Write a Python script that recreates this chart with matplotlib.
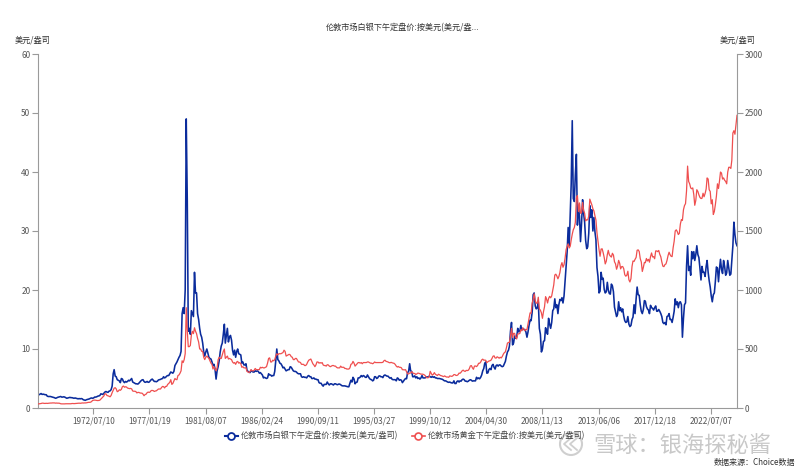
import matplotlib
matplotlib.use("Agg")
import matplotlib.pyplot as plt
import numpy as np
import pandas as pd
from matplotlib.lines import Line2D
from matplotlib.patches import Ellipse

plt.rcParams['font.family'] = ['Noto Sans CJK SC', 'DejaVu Sans']

# ---------------- data (monthly samples, Jan 1968 - Aug 2024) ----------------
start_month = "1968-01-01"
end_month = "2024-08-01"

silver_1968_1979 = [
    2.20, 2.25, 2.35, 2.45, 2.30, 2.35, 2.30, 2.25, 2.25, 2.00, 1.95, 1.95,
    1.95, 1.90, 1.85, 1.80, 1.75, 1.65, 1.70, 1.80, 1.85, 1.90, 1.95, 1.85,
    1.85, 1.90, 1.85, 1.75, 1.65, 1.70, 1.75, 1.80, 1.75, 1.75, 1.70, 1.65,
    1.70, 1.65, 1.60, 1.55, 1.60, 1.55, 1.60, 1.55, 1.40, 1.35, 1.30, 1.40,
    1.45, 1.50, 1.55, 1.65, 1.70, 1.65, 1.70, 1.85, 1.85, 1.90, 2.00, 2.05,
    2.10, 2.40, 2.35, 2.30, 2.50, 2.70, 2.80, 2.70, 2.65, 2.85, 2.90, 3.10,
    3.70, 5.80, 6.50, 5.40, 5.30, 4.80, 4.70, 4.60, 4.30, 5.00, 4.90, 4.50,
    4.30, 4.50, 4.40, 4.50, 4.70, 4.60, 4.80, 5.00, 4.40, 4.30, 4.20, 4.10,
    4.10, 4.05, 4.20, 4.40, 4.60, 4.75, 4.80, 4.50, 4.35, 4.40, 4.50, 4.35,
    4.40, 4.60, 4.80, 4.90, 4.70, 4.50, 4.50, 4.45, 4.55, 4.75, 4.80, 4.85,
    4.95, 5.00, 5.30, 5.10, 5.20, 5.40, 5.50, 5.50, 5.80, 6.10, 6.00, 5.90,
    6.20, 7.20, 7.50, 7.80, 8.20, 8.60, 8.90, 9.60, 16.00, 17.00, 16.00, 20.00,
]
silver_1980_1989 = [
    49.00, 35.00, 13.00, 13.50, 12.50, 16.50, 16.00, 15.50, 23.00, 19.50, 19.50, 16.00,
    15.00, 13.50, 12.50, 12.00, 11.00, 9.50, 8.80, 9.50, 10.00, 9.30, 8.60, 8.40,
    8.30, 7.80, 7.20, 7.40, 6.60, 4.90, 6.30, 7.00, 8.00, 9.50, 10.50, 11.00,
    12.50, 14.20, 11.00, 12.30, 13.50, 11.20, 12.00, 12.30, 11.50, 9.80, 9.00, 9.80,
    8.60, 9.60, 10.00, 9.20, 9.10, 9.00, 7.60, 7.80, 7.30, 7.30, 7.50, 6.40,
    6.20, 6.10, 6.00, 6.40, 6.20, 6.10, 6.10, 6.30, 6.20, 6.30, 6.20, 5.90,
    6.00, 5.80, 5.60, 5.10, 5.20, 5.10, 5.00, 5.10, 5.80, 5.60, 5.60, 5.40,
    5.50, 5.50, 6.20, 8.00, 10.00, 8.20, 8.00, 7.60, 7.50, 7.20, 6.80, 6.90,
    6.60, 6.30, 6.40, 6.50, 6.50, 7.00, 6.90, 6.60, 6.30, 6.20, 6.20, 6.10,
    5.90, 5.80, 5.80, 5.80, 5.30, 5.20, 5.30, 5.20, 5.20, 5.10, 5.40, 5.50,
]
silver_1990_1999 = [
    5.30, 5.30, 5.00, 5.00, 5.10, 4.90, 4.90, 4.80, 4.80, 4.30, 4.20, 4.20,
    3.90, 3.70, 4.00, 4.00, 4.00, 4.40, 4.10, 3.90, 4.10, 4.10, 4.00, 3.90,
    4.10, 4.10, 4.00, 3.95, 4.05, 4.05, 3.95, 3.80, 3.75, 3.75, 3.75, 3.70,
    3.65, 3.60, 3.60, 4.20, 4.70, 4.40, 5.20, 4.90, 4.10, 4.35, 4.40, 5.10,
    5.10, 5.25, 5.50, 5.30, 5.50, 5.40, 5.20, 5.20, 5.60, 5.30, 5.00, 4.85,
    4.80, 4.60, 4.70, 5.30, 5.30, 5.00, 5.10, 5.40, 5.45, 5.30, 5.30, 5.15,
    5.50, 5.60, 5.50, 5.40, 5.40, 5.20, 5.05, 5.15, 4.85, 4.80, 4.80, 4.80,
    4.60, 5.10, 5.00, 4.70, 4.80, 4.70, 4.30, 4.55, 4.80, 5.00, 4.95, 6.00,
    6.20, 7.50, 6.30, 6.20, 5.30, 5.30, 5.45, 5.10, 5.30, 5.00, 5.10, 4.90,
    5.10, 5.50, 5.10, 5.10, 5.10, 5.20, 5.30, 5.20, 5.40, 5.30, 5.20, 5.35,
]
silver_2000_2009 = [
    5.20, 5.30, 5.10, 5.10, 5.00, 5.00, 5.00, 4.95, 4.90, 4.85, 4.70, 4.60,
    4.60, 4.50, 4.40, 4.35, 4.40, 4.30, 4.25, 4.25, 4.60, 4.15, 4.15, 4.50,
    4.60, 4.40, 4.60, 4.55, 4.80, 4.90, 4.80, 4.55, 4.55, 4.45, 4.55, 4.70,
    4.80, 4.70, 4.55, 4.60, 4.60, 4.60, 5.20, 4.95, 5.10, 4.95, 5.20, 5.60,
    6.30, 6.70, 7.60, 7.80, 5.90, 5.95, 6.50, 6.70, 6.50, 7.20, 7.40, 6.90,
    6.60, 7.20, 7.30, 7.10, 7.30, 7.30, 7.10, 7.00, 7.10, 7.50, 7.90, 8.80,
    9.50, 9.80, 10.50, 13.00, 14.50, 10.70, 11.00, 12.20, 11.80, 12.00, 13.50, 12.90,
    13.00, 14.00, 13.20, 13.50, 13.30, 13.30, 12.90, 12.00, 12.90, 14.00, 14.90, 14.80,
    16.20, 19.20, 19.50, 17.30, 16.80, 17.00, 18.00, 13.50, 12.50, 9.50, 10.00, 11.30,
    11.40, 13.60, 12.90, 12.50, 15.20, 14.20, 13.50, 14.50, 16.50, 16.80, 18.50, 17.00,
]
silver_2010_2019 = [
    17.50, 16.00, 17.50, 18.40, 18.20, 18.70, 17.80, 19.00, 21.50, 24.00, 26.50, 30.60,
    27.50, 33.00, 38.00, 48.70, 35.50, 35.00, 39.50, 43.00, 31.00, 34.00, 32.50, 28.20,
    31.30, 35.30, 33.00, 31.50, 28.40, 27.00, 27.30, 29.60, 34.30, 32.30, 33.60, 30.00,
    32.30, 29.80, 28.50, 23.80, 22.30, 19.50, 19.80, 23.00, 21.80, 22.00, 20.10, 19.50,
    19.70, 21.30, 20.00, 19.40, 19.30, 21.00, 20.70, 19.70, 17.10, 16.30, 15.50, 15.90,
    18.00, 16.50, 17.00, 16.30, 16.80, 15.60, 14.80, 14.50, 14.60, 15.50, 14.20, 13.80,
    14.00, 15.00, 15.40, 17.50, 16.00, 18.50, 20.50, 19.20, 19.10, 17.50, 16.40, 16.00,
    16.70, 18.20, 18.10, 17.20, 16.80, 16.60, 16.00, 17.40, 17.00, 16.90, 16.60, 17.00,
    17.30, 16.40, 16.40, 16.70, 16.40, 16.00, 15.50, 14.50, 14.30, 14.50, 14.10, 15.50,
    15.60, 16.00, 15.00, 15.00, 14.50, 15.40, 16.40, 18.50, 17.50, 18.00, 17.00, 17.90,
]
silver_2020_2024 = [
    18.00, 17.50, 12.00, 15.20, 17.50, 17.80, 24.00, 27.50, 23.30, 24.00, 22.50, 26.50,
    25.30, 26.50, 25.00, 26.00, 27.50, 26.00, 25.50, 23.70, 21.70, 24.00, 23.00, 23.00,
    22.30, 24.00, 25.00, 23.00, 21.60, 20.50, 19.00, 18.00, 19.20, 19.50, 21.50, 23.90,
    23.70, 21.40, 23.50, 25.20, 23.50, 22.80, 25.00, 24.00, 22.50, 22.90, 25.00, 23.80,
    22.50, 22.70, 25.00, 27.50, 31.50, 29.40, 28.00, 27.50,
]

gold_1968_1979 = [
    35, 35, 37, 38, 41, 41, 39, 39, 40, 39, 40, 41,
    42, 42, 43, 43, 43, 41, 42, 41, 41, 40, 36, 35,
    35, 35, 35, 36, 36, 36, 36, 36, 36, 38, 38, 37,
    38, 39, 39, 40, 41, 40, 41, 43, 42, 43, 43, 44,
    46, 48, 48, 49, 54, 64, 66, 67, 66, 64, 63, 64,
    66, 75, 84, 91, 102, 120, 120, 106, 103, 100, 95, 106,
    130, 150, 168, 172, 162, 138, 143, 154, 150, 158, 181, 186,
    176, 180, 178, 169, 167, 164, 166, 162, 144, 142, 142, 140,
    128, 132, 132, 128, 126, 126, 118, 104, 114, 117, 130, 135,
    132, 137, 148, 149, 147, 140, 144, 146, 154, 161, 161, 161,
    174, 183, 181, 170, 183, 183, 200, 208, 218, 240, 200, 208,
    228, 250, 242, 240, 275, 280, 295, 315, 400, 385, 410, 460,
]
gold_1980_1989 = [
    850, 650, 520, 520, 530, 620, 650, 630, 680, 650, 630, 590,
    560, 500, 500, 480, 480, 430, 410, 430, 440, 430, 420, 400,
    380, 370, 330, 350, 330, 315, 340, 410, 430, 420, 420, 450,
    480, 500, 420, 430, 440, 415, 420, 415, 410, 390, 380, 385,
    370, 390, 395, 380, 385, 375, 345, 350, 340, 340, 340, 310,
    305, 300, 310, 325, 315, 315, 320, 335, 325, 325, 325, 325,
    345, 340, 345, 340, 340, 345, 350, 380, 420, 425, 390, 390,
    405, 400, 410, 440, 460, 450, 460, 460, 460, 465, 470, 490,
    480, 440, 445, 450, 455, 450, 435, 430, 410, 410, 420, 420,
    405, 390, 390, 385, 370, 370, 370, 360, 360, 370, 390, 405,
]
gold_1990_1999 = [
    410, 415, 395, 375, 365, 350, 365, 390, 390, 380, 385, 380,
    385, 365, 360, 360, 355, 367, 365, 355, 350, 355, 360, 360,
    355, 355, 345, 340, 340, 340, 355, 345, 345, 345, 335, 335,
    330, 330, 330, 340, 370, 375, 395, 380, 355, 365, 375, 385,
    385, 380, 385, 375, 385, 385, 385, 385, 390, 390, 385, 380,
    380, 375, 380, 390, 385, 385, 385, 385, 385, 385, 385, 387,
    400, 405, 396, 393, 390, 385, 383, 387, 383, 381, 378, 369,
    355, 347, 352, 345, 345, 341, 325, 324, 323, 325, 306, 289,
    289, 297, 296, 308, 299, 292, 293, 284, 289, 296, 294, 291,
    287, 287, 286, 282, 276, 262, 256, 257, 265, 311, 293, 279,
]
gold_2000_2009 = [
    285, 300, 286, 280, 275, 286, 282, 275, 273, 270, 266, 272,
    266, 262, 263, 260, 272, 270, 268, 273, 283, 283, 276, 276,
    282, 296, 294, 303, 315, 321, 313, 310, 319, 317, 320, 333,
    357, 359, 341, 328, 355, 356, 351, 360, 379, 379, 389, 407,
    414, 405, 406, 404, 384, 392, 398, 400, 405, 420, 439, 442,
    424, 423, 434, 429, 422, 430, 424, 437, 456, 469, 476, 510,
    550, 555, 557, 610, 675, 596, 633, 632, 598, 585, 627, 629,
    631, 664, 654, 679, 667, 655, 665, 665, 712, 754, 806, 803,
    889, 922, 968, 909, 888, 889, 939, 839, 829, 806, 760, 816,
    858, 943, 924, 890, 928, 946, 934, 949, 996, 1043, 1127, 1134,
]
gold_2010_2019 = [
    1118, 1095, 1114, 1148, 1205, 1232, 1193, 1215, 1270, 1342, 1370, 1391,
    1356, 1372, 1424, 1473, 1510, 1529, 1572, 1780, 1800, 1665, 1738, 1650,
    1654, 1742, 1673, 1650, 1585, 1596, 1594, 1626, 1770, 1747, 1721, 1688,
    1670, 1627, 1593, 1485, 1414, 1342, 1286, 1347, 1349, 1316, 1275, 1221,
    1244, 1300, 1336, 1299, 1287, 1279, 1311, 1296, 1239, 1222, 1176, 1202,
    1251, 1227, 1179, 1198, 1199, 1181, 1130, 1117, 1125, 1159, 1086, 1068,
    1097, 1200, 1246, 1242, 1260, 1276, 1337, 1340, 1326, 1266, 1238, 1157,
    1192, 1234, 1231, 1267, 1246, 1260, 1236, 1283, 1314, 1280, 1283, 1265,
    1331, 1331, 1325, 1335, 1303, 1282, 1238, 1202, 1198, 1215, 1221, 1250,
    1291, 1320, 1300, 1286, 1283, 1359, 1413, 1500, 1510, 1495, 1470, 1480,
]
gold_2020_2024 = [
    1560, 1597, 1590, 1680, 1715, 1732, 1840, 2050, 1920, 1900, 1865, 1858,
    1865, 1808, 1718, 1760, 1850, 1835, 1807, 1785, 1775, 1777, 1820, 1790,
    1818, 1856, 1950, 1940, 1850, 1835, 1730, 1765, 1640, 1665, 1725, 1795,
    1900, 1860, 1920, 2000, 1990, 1940, 1950, 1930, 1920, 1900, 2000, 2040,
    2040, 2030, 2100, 2330, 2350, 2320, 2400, 2480,
]

x_tick_dates = ["1972-07-10", "1977-01-19", "1981-08-07", "1986-02-24",
                "1990-09-11", "1995-03-27", "1999-10-12", "2004-04-30",
                "2008-11-13", "2013-06-06", "2017-12-18", "2022-07-07"]
x_tick_labels = ["1972/07/10", "1977/01/19", "1981/08/07", "1986/02/24",
                 "1990/09/11", "1995/03/27", "1999/10/12", "2004/04/30",
                 "2008/11/13", "2013/06/06", "2017/12/18", "2022/07/07"]
left_ticks = [0, 10, 20, 30, 40, 50, 60]
right_ticks = [0, 500, 1000, 1500, 2000, 2500, 3000]

silver_name = "伦敦市场白银下午定盘价:按美元(美元/盎司)"
gold_name = "伦敦市场黄金下午定盘价:按美元(美元/盎司)"
title_text = "伦敦市场白银下午定盘价:按美元(美元/盎..."
unit_text = "美元/盎司"
watermark_text = "雪球：银海探秘酱"
source_text = "数据来源：Choice数据"

# ---------------- assemble ----------------
silver = np.array(silver_1968_1979 + silver_1980_1989 + silver_1990_1999 +
                  silver_2000_2009 + silver_2010_2019 + silver_2020_2024)
gold = np.array(gold_1968_1979 + gold_1980_1989 + gold_1990_1999 +
                gold_2000_2009 + gold_2010_2019 + gold_2020_2024, dtype=float)
dates = pd.date_range(start_month, end_month, freq="MS") + pd.Timedelta(days=14)
n = min(len(dates), len(silver), len(gold))
dates, silver, gold = dates[:n], silver[:n], gold[:n]

BLUE = "#0b2c9c"
RED = "#ef4f4f"
AXIS = "#9a9a9a"
TXT = "#555555"
FS = 5.9

fig = plt.figure(figsize=(8.0, 4.74), dpi=100)
ax = fig.add_axes([38 / 800, 1 - 408 / 474, (737 - 38) / 800, (408 - 54) / 474])
ax2 = ax.twinx()

ax.plot(dates, silver, color=BLUE, lw=1.15)
ax2.plot(dates, gold, color=RED, lw=0.9)

ax.set_xlim(dates[0], dates[-1])
ax.set_ylim(0, 60)
ax2.set_ylim(0, 3000)
ax.set_yticks(left_ticks)
ax2.set_yticks(right_ticks)
ax.set_xticks(pd.to_datetime(x_tick_dates))
ax.set_xticklabels(x_tick_labels)

for a in (ax, ax2):
    a.spines["top"].set_visible(False)
    for s in a.spines.values():
        s.set_color(AXIS)
        s.set_linewidth(0.8)
    a.grid(False)
ax.spines["right"].set_visible(False)
ax2.spines["left"].set_visible(False)
ax2.spines["bottom"].set_visible(False)

ax.tick_params(axis="y", direction="out", length=4, width=0.8, color=AXIS,
               labelsize=FS, labelcolor=TXT, pad=1.5)
ax2.tick_params(axis="y", direction="out", length=4, width=0.8, color=AXIS,
                labelsize=FS, labelcolor=TXT, pad=1.5)
ax.tick_params(axis="x", direction="out", length=4, width=0.8, color=AXIS,
               labelsize=FS, labelcolor=TXT, pad=2)

fig.text(403 / 800, 1 - 28 / 474, title_text, ha="center", va="center",
         fontsize=FS, color="#333333")
fig.text(33 / 800, 1 - 40 / 474, unit_text, ha="center", va="center",
         fontsize=FS, color="#333333")
fig.text(738 / 800, 1 - 40 / 474, unit_text, ha="center", va="center",
         fontsize=FS, color="#333333")

handles = [
    Line2D([], [], color=BLUE, lw=1.5, marker="o", markersize=5,
           markerfacecolor="white", markeredgecolor=BLUE, markeredgewidth=1.3),
    Line2D([], [], color=RED, lw=1.2, marker="o", markersize=5,
           markerfacecolor="white", markeredgecolor=RED, markeredgewidth=1.2),
]
fig.legend(handles, [silver_name, gold_name], loc="center",
           bbox_to_anchor=(405 / 800, 1 - 436 / 474), ncol=2, frameon=False,
           fontsize=FS, handlelength=1.6, handletextpad=0.4, columnspacing=1.6,
           labelcolor="#444444")

# watermark (logo drawn as shapes, not text)
fig.add_artist(Ellipse((571 / 800, 1 - 444 / 474), 22 / 800, 22 / 474,
                       transform=fig.transFigure, fill=False,
                       edgecolor="#cfcfcf", lw=1.5))
for dx in (-3, 3):
    fig.add_artist(Line2D([(574 + dx) / 800, (567 + dx) / 800, (574 + dx) / 800],
                          [1 - 438 / 474, 1 - 444 / 474, 1 - 450 / 474],
                          transform=fig.transFigure, color="#cfcfcf", lw=1.3))
fig.text(593 / 800, 1 - 445 / 474, watermark_text, ha="left", va="center",
         fontsize=16, color="#c8c8c8")
fig.text(795 / 800, 1 - 462 / 474, source_text, ha="right", va="center",
         fontsize=5.8, color="#333333")

fig.savefig("out.png", dpi=100)
